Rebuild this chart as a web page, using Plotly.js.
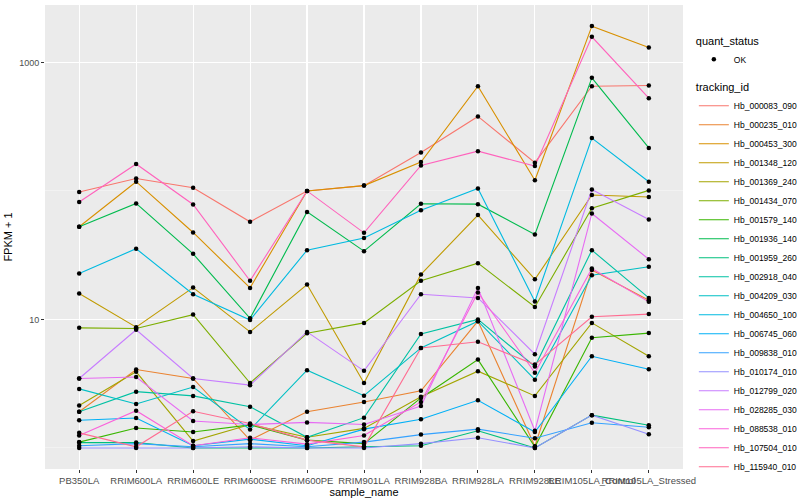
<!DOCTYPE html>
<html>
<head>
<meta charset="utf-8">
<script src="https://cdn.plot.ly/plotly-3.0.1.min.js"></script>
<style>html,body{margin:0;padding:0;background:#fff;}#chart{width:800px;height:500px;}</style>
</head>
<body>
<div id="chart"></div>
<script>
const samples = ["PB350LA","RRIM600LA","RRIM600LE","RRIM600SE","RRIM600PE","RRIM901LA","RRIM928BA","RRIM928LA","RRIM928LE","RRIM105LA_Control","RRIM105LA_Stressed"];
const trackingIds = ["Hb_000083_090","Hb_000235_010","Hb_000453_300","Hb_001348_120","Hb_001369_240","Hb_001434_070","Hb_001579_140","Hb_001936_140","Hb_001959_260","Hb_002918_040","Hb_004209_030","Hb_004650_100","Hb_006745_060","Hb_009838_010","Hb_010174_010","Hb_012799_020","Hb_028285_030","Hb_088538_010","Hb_107504_010","Hb_115940_010"];
const colors = ["#F8766D","#EA8331","#D89000","#C09B00","#A3A500","#7CAE00","#39B600","#00BB4E","#00BF7D","#00C1A3","#00BFC4","#00BAE0","#00B0F6","#35A2FF","#9590FF","#C77CFF","#E76BF3","#FA62DB","#FF62BC","#FF6C91"];

// FPKM + 1 values, one array per tracking_id, in sample order
const Hb_000083_090 = [98, 125, 106, 57.5, 100, 110, 199, 380, 166, 653, 662];
const Hb_000235_010 = [1.91, 4.08, 3.47, 1.15, 1.91, 2.28, 2.78, 9.7, 1.03, 24.2, 14.1];
const Hb_000453_300 = [52.6, 118, 47.5, 17.6, 100, 110, 168, 653, 121, 1917, 1309];
const Hb_001348_120 = [15.9, 8.7, 17.7, 8.0, 18.7, 3.2, 22.4, 64.9, 20.5, 93, 89.6];
const Hb_001369_240 = [2.14, 3.91, 1.13, 1.52, 1.21, 1.42, 2.5, 3.96, 2.54, 9.4, 5.17];
const Hb_001434_070 = [8.6, 8.5, 10.9, 3.2, 7.8, 9.4, 20, 27.4, 12.5, 73.3, 101];
const Hb_001579_140 = [1.11, 1.43, 1.33, 1.51, 1.15, 1.08, 2.45, 4.87, 1.02, 7.2, 7.83];
const Hb_001936_140 = [52.6, 80, 32.4, 10.2, 68.7, 34, 79.4, 78.9, 45.8, 759, 216];
const Hb_001959_260 = [1.1, 1.1, 1.0, 1.0, 1.0, 1.02, 1.04, 1.36, 1.0, 1.8, 1.5];
const Hb_002918_040 = [1.91, 2.74, 2.54, 2.09, 1.21, 1.72, 7.7, 10.0, 4.3, 34.6, 14.7];
const Hb_004209_030 = [2.88, 2.2, 2.98, 1.39, 4.03, 2.55, 6.0, 9.7, 3.4, 22.1, 25.7];
const Hb_004650_100 = [22.8, 35.5, 15.7, 9.9, 34.6, 43, 70.8, 104.5, 13.8, 258, 118];
const Hb_006745_060 = [1.64, 1.71, 1.04, 1.17, 1.04, 1.4, 1.67, 2.35, 1.33, 5.17, 4.1];
const Hb_009838_010 = [1.04, 1.08, 1.02, 1.08, 1.02, 1.11, 1.27, 1.4, 1.19, 1.57, 1.45];
const Hb_010174_010 = [1.0, 1.0, 1.0, 1.02, 1.0, 1.0, 1.08, 1.2, 1.0, 1.8, 1.28];
const Hb_012799_020 = [3.47, 8.3, 3.47, 3.08, 8.0, 3.98, 15.7, 14.7, 5.37, 102.6, 60];
const Hb_028285_030 = [3.47, 3.56, 1.62, 1.52, 1.58, 1.52, 2.12, 17.6, 1.36, 66.8, 29.4];
const Hb_088538_010 = [1.25, 1.95, 1.04, 1.2, 1.07, 1.25, 2.28, 16.2, 3.85, 24.9, 13.7];
const Hb_107504_010 = [82, 162, 78.5, 20, 100, 47.2, 158, 204, 156, 1582, 527];
const Hb_115940_010 = [1.31, 1.02, 1.93, 1.55, 1.15, 1.02, 6.0, 6.7, 4.45, 10.5, 11];

const seriesValues = [Hb_000083_090, Hb_000235_010, Hb_000453_300, Hb_001348_120, Hb_001369_240, Hb_001434_070, Hb_001579_140, Hb_001936_140, Hb_001959_260, Hb_002918_040, Hb_004209_030, Hb_004650_100, Hb_006745_060, Hb_009838_010, Hb_010174_010, Hb_012799_020, Hb_028285_030, Hb_088538_010, Hb_107504_010, Hb_115940_010];

const traces = [];
trackingIds.forEach((id, i) => {
  traces.push({
    type: 'scatter', mode: 'lines', name: id,
    x: samples, y: seriesValues[i],
    line: {color: colors[i], width: 1.1},
    legend: 'legend2', showlegend: true
  });
});
const px = [], py = [];
seriesValues.forEach(vals => vals.forEach((v, j) => { px.push(samples[j]); py.push(v); }));
traces.push({
  type: 'scatter', mode: 'markers', name: 'OK',
  x: px, y: py,
  marker: {color: '#000000', size: 4.5},
  legend: 'legend', showlegend: true
});

const layout = {
  width: 800, height: 500,
  margin: {l: 45, r: 117, t: 5, b: 31, autoexpand: false},
  paper_bgcolor: '#FFFFFF', plot_bgcolor: '#EBEBEB',
  font: {family: 'Liberation Sans, Arial, sans-serif', color: '#000000'},
  xaxis: {
    type: 'category', range: [-0.6, 10.6], tickangle: 0,
    showgrid: true, gridcolor: '#FFFFFF', gridwidth: 1.1,
    ticks: 'outside', ticklen: 3, tickcolor: '#333333', tickwidth: 1,
    tickfont: {size: 9.5, color: '#4D4D4D'},
    zeroline: false, showline: false, automargin: false,
    title: {text: 'sample_name', font: {size: 11, color: '#000000'}, standoff: 1}
  },
  yaxis: {
    type: 'log', range: [-0.164, 3.447],
    tickmode: 'array', tickvals: [10, 1000], ticktext: ['10', '1000'],
    showgrid: true, gridcolor: '#FFFFFF', gridwidth: 1.1,
    minor: {tickmode: 'array', tickvals: [1, 100], showgrid: true, gridcolor: '#F7F7F7', gridwidth: 0.6, ticklen: 0},
    ticks: 'outside', ticklen: 3, tickcolor: '#333333', tickwidth: 1,
    tickfont: {size: 9, color: '#4D4D4D'},
    zeroline: false, showline: false, automargin: false,
    title: {text: 'FPKM + 1', font: {size: 11, color: '#000000'}, standoff: 4}
  },
  legend: {
    x: 1.017, y: 0.945, xanchor: 'left', yanchor: 'top',
    bgcolor: 'rgba(0,0,0,0)',
    title: {text: 'quant_status', font: {size: 11}},
    font: {size: 8.5}
  },
  legend2: {
    x: 1.017, y: 0.845, xanchor: 'left', yanchor: 'top',
    bgcolor: 'rgba(0,0,0,0)',
    title: {text: 'tracking_id', font: {size: 11}},
    font: {size: 8.5}, tracegroupgap: 0
  },
  showlegend: true
};

Plotly.newPlot('chart', traces, layout, {displayModeBar: false, staticPlot: true});
</script>
</body>
</html>
